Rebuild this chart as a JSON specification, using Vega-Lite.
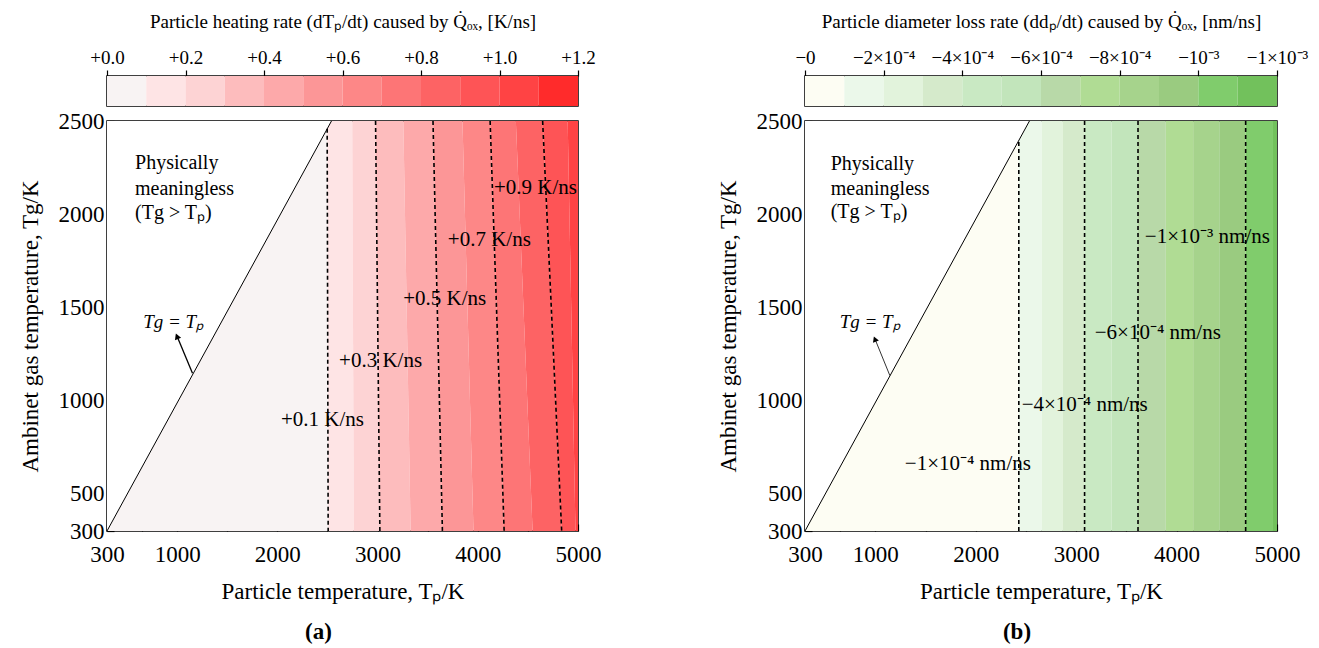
{
  "$schema": "https://vega.github.io/schema/vega-lite/v6.json",
  "padding": {"left": 18, "top": 11, "right": 0, "bottom": 0},
  "background": "white",
  "config": {
    "font": "Liberation Serif",
    "view": {"stroke": "black", "strokeWidth": 1.5},
    "axis": {"domain": false, "grid": false, "labelFont": "Liberation Serif", "titleFont": "Liberation Serif", "labelColor": "black", "titleColor": "black", "tickColor": "black", "titleFontWeight": "normal", "labelFontSize": 23, "titleFontSize": 23, "tickWidth": 1.2, "labelFlush": false, "zindex": 2},
    "title": {"font": "Liberation Serif", "fontSize": 23, "fontWeight": "bold", "color": "black"},
    "text": {"font": "Liberation Serif", "color": "black"}
  },
  "resolve": {"scale": {"color": "independent"}},
  "bounds": "flush",
  "columns": 2,
  "spacing": {"row": 15, "column": 227},
  "concat": [
    {
      "width": 471, "height": 30,
      "data": {"name": "cbA"},
      "mark": {"type": "rect"},
      "encoding": {
        "x": {"field": "lo", "type": "quantitative", "scale": {"domain": [0, 1.2], "nice": false, "zero": false},
          "axis": {"orient": "top", "values": [0, 0.2, 0.4, 0.6, 0.8, 1, 1.2], "format": "+.1f", "title": "Particle heating rate (dTₚ/dt) caused by Q̇ₒₓ, [K/ns]", "tickSize": 6, "labelFontSize": 19, "titleFontSize": 19, "labelPadding": 3, "titlePadding": 17}},
        "x2": {"field": "hi"},
        "color": {"field": "band", "type": "ordinal", "legend": null,
          "scale": {"domain": [0,1,2,3,4,5,6,7,8,9,10,11], "range": ["#f8f3f3","#fee4e5","#fdd3d4","#fdbcbd","#fda9aa","#fc9697","#fd8787","#fd7576","#fd6364","#fe5456","#ff4344","#ff2b2b"]}}
      }
    },
    {
      "width": 472, "height": 30,
      "data": {"name": "cbB"},
      "mark": {"type": "rect"},
      "encoding": {
        "x": {"field": "lo", "type": "quantitative", "scale": {"domain": [0, -0.0012], "nice": false, "zero": false},
          "axis": {"orient": "top", "values": [0, -0.0002, -0.0004, -0.0006, -0.0008, -0.001, -0.0012],
            "labelExpr": "['−0','−2×10⁻⁴','−4×10⁻⁴','−6×10⁻⁴','−8×10⁻⁴','−10⁻³','−1×10⁻³'][round(-datum.value*5000)]",
            "title": "Particle diameter loss rate (ddₚ/dt) caused by Q̇ₒₓ, [nm/ns]", "tickSize": 6, "labelFontSize": 19, "titleFontSize": 19, "labelPadding": 3, "titlePadding": 17}},
        "x2": {"field": "hi"},
        "color": {"field": "band", "type": "ordinal", "legend": null,
          "scale": {"domain": [0,1,2,3,4,5,6,7,8,9,10,11], "range": ["#fdfdf3","#ebf8ea","#e2f3dc","#d5eacb","#c9e9c3","#c2e5bb","#b8d9a8","#b0dc94","#a6d38c","#9acb80","#80cc6c","#72c15c"]}}
      }
    },
    {
      "width": 471, "height": 410,
      "title": {"text": "(a)", "orient": "bottom", "dx": -24, "offset": 18},
      "layer": [
        {
          "data": {"name": "bandsA"},
          "mark": {"type": "area", "orient": "horizontal"},
          "encoding": {
            "y": {"field": "Tg", "type": "quantitative", "scale": {"domain": [300, 2500], "nice": false, "zero": false},
              "axis": {"values": [300,400,500,750,1000,1250,1500,1750,2000,2250,2500], "format": "d",
                "labelExpr": "indexof([400,750,1250,1750,2250], datum.value) >= 0 ? '' : datum.label",
                "tickSize": {"condition": {"test": "indexof([400,750,1250,1750,2250], datum.value) >= 0", "value": -4}, "value": -7},
                "labelPadding": 10, "title": "Ambinet gas temperature, Tg/K", "titlePadding": 16}},
            "x": {"field": "left", "type": "quantitative", "stack": null, "scale": {"domain": [300, 5000], "nice": false, "zero": false},
              "axis": {"values": [300,650,1000,1500,2000,2500,3000,3500,4000,4500,5000], "format": "d",
                "labelExpr": "indexof([650,1500,2500,3500,4500], datum.value) >= 0 ? '' : datum.label",
                "tickSize": {"condition": {"test": "indexof([650,1500,2500,3500,4500], datum.value) >= 0", "value": -4}, "value": -7},
                "labelPadding": 19, "title": "Particle temperature, Tₚ/K", "titlePadding": 14}},
            "x2": {"field": "right"},
            "color": {"field": "band", "type": "ordinal", "legend": null,
              "scale": {"domain": [0,1,2,3,4,5,6,7,8,9,10,11], "range": ["#f8f3f3","#fee4e5","#fdd3d4","#fdbcbd","#fda9aa","#fc9697","#fd8787","#fd7576","#fd6364","#fe5456","#ff4344","#ff2b2b"]}}
          }
        },
        {
          "data": {"values": [{"Tg": 300, "left": 300, "right": 300}, {"Tg": 2500, "left": 300, "right": 2540}]},
          "mark": {"type": "area", "orient": "horizontal", "color": "white"},
          "encoding": {"y": {"field": "Tg", "type": "quantitative"}, "x": {"field": "left", "type": "quantitative", "stack": null}, "x2": {"field": "right"}}
        },
        {
          "data": {"name": "contA"},
          "mark": {"type": "line", "color": "black", "strokeDash": [4, 3], "strokeWidth": 1.6},
          "encoding": {"x": {"field": "Tp", "type": "quantitative"}, "y": {"field": "Tg", "type": "quantitative"}, "detail": {"field": "level"}}
        },
        {
          "data": {"values": [{"Tp": 300, "Tg": 300}, {"Tp": 2540, "Tg": 2500}]},
          "mark": {"type": "line", "color": "black", "strokeWidth": 1},
          "encoding": {"x": {"field": "Tp", "type": "quantitative"}, "y": {"field": "Tg", "type": "quantitative"}}
        },
        {
          "data": {"values": [{"Tp": 1153, "Tg": 1146, "Tp2": 995, "Tg2": 1350}]},
          "mark": {"type": "rule", "color": "black", "strokeWidth": 1.3},
          "encoding": {"x": {"field": "Tp", "type": "quantitative"}, "y": {"field": "Tg", "type": "quantitative"}, "x2": {"field": "Tp2"}, "y2": {"field": "Tg2"}}
        },
        {
          "data": {"values": [{"Tp": 998, "Tg": 1345}]},
          "mark": {"type": "point", "shape": "triangle-up", "angle": 338, "filled": true, "color": "black", "size": 45, "opacity": 1},
          "encoding": {"x": {"field": "Tp", "type": "quantitative"}, "y": {"field": "Tg", "type": "quantitative"}}
        },
        {
          "data": {"name": "labelsA"},
          "mark": {"type": "text", "fontSize": 21, "align": "center", "baseline": "middle"},
          "encoding": {"x": {"field": "Tp", "type": "quantitative"}, "y": {"field": "Tg", "type": "quantitative"}, "text": {"field": "label"}}
        },
        {
          "data": {"name": "noteA"},
          "mark": {"type": "text", "fontSize": 20, "align": "left", "baseline": "middle"},
          "encoding": {"x": {"field": "Tp", "type": "quantitative"}, "y": {"field": "Tg", "type": "quantitative"}, "text": {"field": "label"}}
        },
        {
          "data": {"values": [{"Tp": 965, "Tg": 1420, "label": "Tg = Tₚ"}]},
          "mark": {"type": "text", "fontSize": 19, "align": "center", "baseline": "middle", "fontStyle": "italic"},
          "encoding": {"x": {"field": "Tp", "type": "quantitative"}, "y": {"field": "Tg", "type": "quantitative"}, "text": {"field": "label"}}
        }
      ]
    },
    {
      "width": 472, "height": 410,
      "title": {"text": "(b)", "orient": "bottom", "dx": -24, "offset": 18},
      "layer": [
        {
          "data": {"name": "bandsB"},
          "mark": {"type": "area", "orient": "horizontal"},
          "encoding": {
            "y": {"field": "Tg", "type": "quantitative", "scale": {"domain": [300, 2500], "nice": false, "zero": false},
              "axis": {"values": [300,400,500,750,1000,1250,1500,1750,2000,2250,2500], "format": "d",
                "labelExpr": "indexof([400,750,1250,1750,2250], datum.value) >= 0 ? '' : datum.label",
                "tickSize": {"condition": {"test": "indexof([400,750,1250,1750,2250], datum.value) >= 0", "value": -4}, "value": -7},
                "labelPadding": 10, "title": "Ambinet gas temperature, Tg/K", "titlePadding": 16}},
            "x": {"field": "left", "type": "quantitative", "stack": null, "scale": {"domain": [300, 5000], "nice": false, "zero": false},
              "axis": {"values": [300,650,1000,1500,2000,2500,3000,3500,4000,4500,5000], "format": "d",
                "labelExpr": "indexof([650,1500,2500,3500,4500], datum.value) >= 0 ? '' : datum.label",
                "tickSize": {"condition": {"test": "indexof([650,1500,2500,3500,4500], datum.value) >= 0", "value": -4}, "value": -7},
                "labelPadding": 19, "title": "Particle temperature, Tₚ/K", "titlePadding": 14}},
            "x2": {"field": "right"},
            "color": {"field": "band", "type": "ordinal", "legend": null,
              "scale": {"domain": [0,1,2,3,4,5,6,7,8,9,10,11], "range": ["#fdfdf3","#ebf8ea","#e2f3dc","#d5eacb","#c9e9c3","#c2e5bb","#b8d9a8","#b0dc94","#a6d38c","#9acb80","#80cc6c","#72c15c"]}}
          }
        },
        {
          "data": {"values": [{"Tg": 300, "left": 300, "right": 300}, {"Tg": 2500, "left": 300, "right": 2535}]},
          "mark": {"type": "area", "orient": "horizontal", "color": "white"},
          "encoding": {"y": {"field": "Tg", "type": "quantitative"}, "x": {"field": "left", "type": "quantitative", "stack": null}, "x2": {"field": "right"}}
        },
        {
          "data": {"name": "contB"},
          "mark": {"type": "line", "color": "black", "strokeDash": [4, 3], "strokeWidth": 1.6},
          "encoding": {"x": {"field": "Tp", "type": "quantitative"}, "y": {"field": "Tg", "type": "quantitative"}, "detail": {"field": "level"}}
        },
        {
          "data": {"values": [{"Tp": 300, "Tg": 300}, {"Tp": 2535, "Tg": 2500}]},
          "mark": {"type": "line", "color": "black", "strokeWidth": 1},
          "encoding": {"x": {"field": "Tp", "type": "quantitative"}, "y": {"field": "Tg", "type": "quantitative"}}
        },
        {
          "data": {"values": [{"Tp": 1145, "Tg": 1134, "Tp2": 994, "Tg2": 1334}]},
          "mark": {"type": "rule", "color": "#333333", "strokeWidth": 1},
          "encoding": {"x": {"field": "Tp", "type": "quantitative"}, "y": {"field": "Tg", "type": "quantitative"}, "x2": {"field": "Tp2"}, "y2": {"field": "Tg2"}}
        },
        {
          "data": {"values": [{"Tp": 996, "Tg": 1330}]},
          "mark": {"type": "point", "shape": "triangle-up", "angle": 338, "filled": true, "color": "black", "size": 40, "opacity": 1},
          "encoding": {"x": {"field": "Tp", "type": "quantitative"}, "y": {"field": "Tg", "type": "quantitative"}}
        },
        {
          "data": {"name": "labelsB"},
          "mark": {"type": "text", "fontSize": 21, "align": "center", "baseline": "middle"},
          "encoding": {"x": {"field": "Tp", "type": "quantitative"}, "y": {"field": "Tg", "type": "quantitative"}, "text": {"field": "label"}}
        },
        {
          "data": {"name": "noteB"},
          "mark": {"type": "text", "fontSize": 20, "align": "left", "baseline": "middle"},
          "encoding": {"x": {"field": "Tp", "type": "quantitative"}, "y": {"field": "Tg", "type": "quantitative"}, "text": {"field": "label"}}
        },
        {
          "data": {"values": [{"Tp": 949, "Tg": 1420, "label": "Tg = Tₚ"}]},
          "mark": {"type": "text", "fontSize": 19, "align": "center", "baseline": "middle", "fontStyle": "italic"},
          "encoding": {"x": {"field": "Tp", "type": "quantitative"}, "y": {"field": "Tg", "type": "quantitative"}, "text": {"field": "label"}}
        }
      ]
    }
  ],
  "datasets": {
    "cbA": [
      {"band": 0, "lo": 0.0, "hi": 0.1}, {"band": 1, "lo": 0.1, "hi": 0.2}, {"band": 2, "lo": 0.2, "hi": 0.3},
      {"band": 3, "lo": 0.3, "hi": 0.4}, {"band": 4, "lo": 0.4, "hi": 0.5}, {"band": 5, "lo": 0.5, "hi": 0.6},
      {"band": 6, "lo": 0.6, "hi": 0.7}, {"band": 7, "lo": 0.7, "hi": 0.8}, {"band": 8, "lo": 0.8, "hi": 0.9},
      {"band": 9, "lo": 0.9, "hi": 1.0}, {"band": 10, "lo": 1.0, "hi": 1.1}, {"band": 11, "lo": 1.1, "hi": 1.2}
    ],
    "cbB": [
      {"band": 0, "lo": 0, "hi": -0.0001}, {"band": 1, "lo": -0.0001, "hi": -0.0002}, {"band": 2, "lo": -0.0002, "hi": -0.0003},
      {"band": 3, "lo": -0.0003, "hi": -0.0004}, {"band": 4, "lo": -0.0004, "hi": -0.0005}, {"band": 5, "lo": -0.0005, "hi": -0.0006},
      {"band": 6, "lo": -0.0006, "hi": -0.0007}, {"band": 7, "lo": -0.0007, "hi": -0.0008}, {"band": 8, "lo": -0.0008, "hi": -0.0009},
      {"band": 9, "lo": -0.0009, "hi": -0.0010}, {"band": 10, "lo": -0.0010, "hi": -0.0011}, {"band": 11, "lo": -0.0011, "hi": -0.0012}
    ],
    "bandsA": [
      {"band": 0, "Tg": 300, "left": 300, "right": 2507}, {"band": 0, "Tg": 2500, "left": 300, "right": 2497},
      {"band": 1, "Tg": 300, "left": 2507, "right": 2763}, {"band": 1, "Tg": 2500, "left": 2497, "right": 2747},
      {"band": 2, "Tg": 300, "left": 2763, "right": 3023}, {"band": 2, "Tg": 2500, "left": 2747, "right": 2980},
      {"band": 3, "Tg": 300, "left": 3023, "right": 3330}, {"band": 3, "Tg": 2500, "left": 2980, "right": 3257},
      {"band": 4, "Tg": 300, "left": 3330, "right": 3647}, {"band": 4, "Tg": 2500, "left": 3257, "right": 3553},
      {"band": 5, "Tg": 300, "left": 3647, "right": 3957}, {"band": 5, "Tg": 2500, "left": 3553, "right": 3847},
      {"band": 6, "Tg": 300, "left": 3957, "right": 4263}, {"band": 6, "Tg": 2500, "left": 3847, "right": 4123},
      {"band": 7, "Tg": 300, "left": 4263, "right": 4547}, {"band": 7, "Tg": 2500, "left": 4123, "right": 4380},
      {"band": 8, "Tg": 300, "left": 4547, "right": 4837}, {"band": 8, "Tg": 2500, "left": 4380, "right": 4647},
      {"band": 9, "Tg": 300, "left": 4837, "right": 4975}, {"band": 9, "Tg": 2500, "left": 4647, "right": 4897},
      {"band": 10, "Tg": 300, "left": 4975, "right": 5000}, {"band": 10, "Tg": 2500, "left": 4897, "right": 5000}
    ],
    "bandsB": [
      {"band": 0, "Tg": 300, "left": 300, "right": 2429}, {"band": 0, "Tg": 2500, "left": 300, "right": 2429},
      {"band": 1, "Tg": 300, "left": 2429, "right": 2658}, {"band": 1, "Tg": 2500, "left": 2429, "right": 2658},
      {"band": 2, "Tg": 300, "left": 2658, "right": 2868}, {"band": 2, "Tg": 2500, "left": 2658, "right": 2868},
      {"band": 3, "Tg": 300, "left": 2868, "right": 3084}, {"band": 3, "Tg": 2500, "left": 2868, "right": 3084},
      {"band": 4, "Tg": 300, "left": 3084, "right": 3351}, {"band": 4, "Tg": 2500, "left": 3084, "right": 3351},
      {"band": 5, "Tg": 300, "left": 3351, "right": 3616}, {"band": 5, "Tg": 2500, "left": 3351, "right": 3616},
      {"band": 6, "Tg": 300, "left": 3616, "right": 3893}, {"band": 6, "Tg": 2500, "left": 3616, "right": 3893},
      {"band": 7, "Tg": 300, "left": 3893, "right": 4165}, {"band": 7, "Tg": 2500, "left": 3893, "right": 4165},
      {"band": 8, "Tg": 300, "left": 4165, "right": 4425}, {"band": 8, "Tg": 2500, "left": 4165, "right": 4425},
      {"band": 9, "Tg": 300, "left": 4425, "right": 4688}, {"band": 9, "Tg": 2500, "left": 4425, "right": 4688},
      {"band": 10, "Tg": 300, "left": 4688, "right": 4960}, {"band": 10, "Tg": 2500, "left": 4688, "right": 4960},
      {"band": 11, "Tg": 300, "left": 4960, "right": 5000}, {"band": 11, "Tg": 2500, "left": 4960, "right": 5000}
    ],
    "contA": [
      {"level": 0.1, "Tp": 2507, "Tg": 300}, {"level": 0.1, "Tp": 2497, "Tg": 2458},
      {"level": 0.3, "Tp": 3023, "Tg": 300}, {"level": 0.3, "Tp": 2980, "Tg": 2500},
      {"level": 0.5, "Tp": 3647, "Tg": 300}, {"level": 0.5, "Tp": 3553, "Tg": 2500},
      {"level": 0.7, "Tp": 4263, "Tg": 300}, {"level": 0.7, "Tp": 4123, "Tg": 2500},
      {"level": 0.9, "Tp": 4837, "Tg": 300}, {"level": 0.9, "Tp": 4647, "Tg": 2500}
    ],
    "contB": [
      {"level": -0.0001, "Tp": 2429, "Tg": 300}, {"level": -0.0001, "Tp": 2429, "Tg": 2396},
      {"level": -0.0004, "Tp": 3084, "Tg": 300}, {"level": -0.0004, "Tp": 3084, "Tg": 2500},
      {"level": -0.0006, "Tp": 3616, "Tg": 300}, {"level": -0.0006, "Tp": 3616, "Tg": 2500},
      {"level": -0.001, "Tp": 4688, "Tg": 300}, {"level": -0.001, "Tp": 4688, "Tg": 2500}
    ],
    "labelsA": [
      {"Tp": 2450, "Tg": 896, "label": "+0.1 K/ns"},
      {"Tp": 3030, "Tg": 1214, "label": "+0.3 K/ns"},
      {"Tp": 3670, "Tg": 1543, "label": "+0.5 K/ns"},
      {"Tp": 4115, "Tg": 1862, "label": "+0.7 K/ns"},
      {"Tp": 4575, "Tg": 2139, "label": "+0.9 K/ns"}
    ],
    "labelsB": [
      {"Tp": 1922, "Tg": 660, "label": "−1×10⁻⁴ nm/ns"},
      {"Tp": 3085, "Tg": 976, "label": "−4×10⁻⁴ nm/ns"},
      {"Tp": 3813, "Tg": 1363, "label": "−6×10⁻⁴ nm/ns"},
      {"Tp": 4307, "Tg": 1879, "label": "−1×10⁻³ nm/ns"}
    ],
    "noteA": [
      {"Tp": 580, "Tg": 2275, "label": "Physically"},
      {"Tp": 580, "Tg": 2135, "label": "meaningless"},
      {"Tp": 580, "Tg": 2006, "label": "(Tg > Tₚ)"}
    ],
    "noteB": [
      {"Tp": 556, "Tg": 2269, "label": "Physically"},
      {"Tp": 556, "Tg": 2135, "label": "meaningless"},
      {"Tp": 556, "Tg": 2012, "label": "(Tg > Tₚ)"}
    ]
  }
}
